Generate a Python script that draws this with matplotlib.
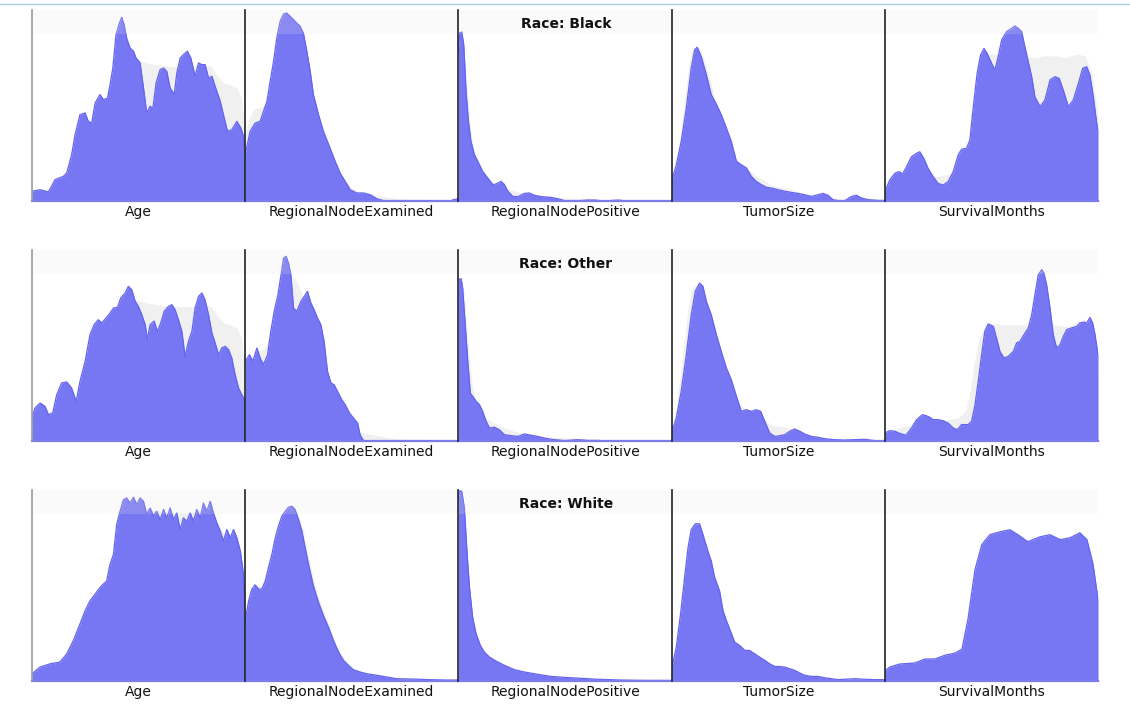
import matplotlib
matplotlib.use("Agg")
import matplotlib.pyplot as plt
from matplotlib.lines import Line2D

races = ["Black", "Other", "White"]
variables = ["Age", "RegionalNodeExamined", "RegionalNodePositive", "TumorSize", "SurvivalMonths"]

# density curves: (position % of range, height % of panel)
black_age = [(0, 5.1), (3.8, 5.9), (7.7, 4.7), (10.8, 11.2), (14.7, 12.9), (16.3, 14.7), (18.6, 24.3), (20.2, 34.7),
             (22.5, 45.2), (24.9, 46.1), (26.4, 41.7), (28, 40.8), (29.6, 51.3), (31.9, 55.7), (33.5, 53.1), (35.4, 53.9),
             (36.6, 60.9), (37.9, 69.6), (39.4, 87.1), (41, 93.2), (42.1, 96.2), (43.2, 92.3), (44.4, 85.3), (46, 80.1),
             (47.6, 78.4), (48.8, 74.9), (50.7, 72.3), (52.3, 59.2), (53.8, 46.1), (55.4, 49.6), (56.7, 48.7), (58.2, 61.8),
             (60.1, 68.8), (61.7, 69.6), (63.2, 67.9), (64.8, 59.2), (66.7, 55.7), (67.9, 67), (69.5, 74.9), (71, 76.6),
             (72.9, 78.4), (74.5, 74.9), (76.5, 65.3), (78.1, 72.3), (79.7, 71.4), (81.2, 71.4), (82.8, 64.4), (84.4, 65.3),
             (85.9, 60), (88.3, 52.2), (89.8, 45.2), (91.7, 36.5), (93.7, 37.3), (96.1, 41.7), (98, 38.2), (99.2, 33.9),
             (100, 24.3)]
black_rne = [(0, 24.3), (2.3, 36.5), (4.7, 40.8), (7, 41.7), (8.6, 47), (10.2, 52.2), (11.7, 62.7), (13.3, 73.1),
             (14.8, 85.3), (16.4, 94.1), (18, 97.9), (19.5, 98.4), (21.1, 96.7), (22.7, 94.9), (24.2, 93.2), (25.8, 91.4),
             (27.3, 87.9), (28.9, 78.4), (30.5, 67.9), (32, 55.7), (34.4, 45.2), (36.7, 36.5), (39.8, 27.7), (42.2, 20.8),
             (44.5, 14.7), (46.9, 10.3), (49.2, 5.9), (52.3, 4.2), (55.5, 4.2), (58.6, 3.3), (61.7, 1.2), (64.8, 0.2),
             (71.1, 0), (96.1, 0), (97.7, 0.7), (100, 1.2)]
black_rnp = [(0, 78), (0.6, 88), (1.6, 88.5), (2.5, 81.8), (3.6, 57.4), (4.7, 41.7), (5.9, 31.2), (7.5, 24.3),
             (9.1, 20.8), (11.4, 15.5), (13.8, 12), (16.1, 8.6), (17.7, 8.9), (20, 10.3), (21.6, 8.6), (23.2, 5.1),
             (25.5, 2.4), (27.9, 2.3), (31, 4), (33.3, 4.2), (35.7, 3), (38.8, 2.3), (43.5, 1.9), (46.6, 1.2),
             (49.8, 0.2), (54.5, 0), (60.7, 0.5), (63.8, 0.5), (68.5, 0), (74.8, 0.5), (77.9, 0.2), (82.6, 0), (100, 0)]
black_ts = [(0, 10.3), (2.2, 19), (4.5, 31.2), (6.9, 48.7), (9.2, 69.6), (10.8, 79.2), (12, 80.5), (13.9, 75.7),
            (16.3, 66.1), (18.6, 55.7), (21, 50.6), (23.3, 45.2), (25.7, 38.2), (28, 31.2), (30.4, 20.8), (32.7, 19),
            (35.1, 17.3), (37.4, 12.9), (39.7, 10.3), (42.1, 8.6), (44.4, 7.2), (46.8, 6.8), (49.9, 5.9), (53.1, 5.1),
            (56.2, 4.5), (59.3, 4), (62.4, 3.3), (65.6, 2.4), (68.7, 3.3), (71, 4), (73.4, 3), (75.7, 0.7), (78.1, 0.2),
            (81.2, 0.2), (84.4, 2.4), (86.7, 3), (89, 1.6), (92.2, 0.7), (96.9, 0.3), (100, 0.3)]
black_surv = [(0, 4.9), (2.3, 11), (4.7, 14.5), (6.7, 15.4), (8.3, 14.1), (10.2, 18), (12.5, 23.2), (14.9, 25),
              (16.4, 25.8), (18.3, 22.3), (20.3, 17.1), (22.7, 12.7), (25, 9.2), (27.4, 8.4), (29.7, 10.1), (32.1, 15.4),
              (34.4, 24.1), (36, 27.1), (38.3, 27.6), (39.9, 31.9), (41.5, 49.4), (43.3, 66.8), (44.9, 76.4), (46.5, 79.9),
              (48, 77.3), (50.1, 72.1), (51.6, 68.6), (53.2, 75.6), (54.8, 84.3), (57.1, 88.7), (59.5, 90.4), (61, 91.6),
              (62.6, 90.4), (64.2, 88.7), (65.7, 80.8), (67.3, 72.9), (68.9, 65.1), (70.4, 54.6), (72.8, 49.4), (75.1, 52.9),
              (77.5, 63.4), (79.8, 65.1), (81.8, 64.2), (83.7, 58.1), (86.1, 49.4), (88.4, 52.9), (90.8, 61.6), (92.8, 69.5),
              (94.7, 70.3), (96.2, 66), (97.8, 54.6), (99.4, 40.7), (100, 37.2)]

other_age = [(0, 12), (1.4, 17.3), (3.8, 19.9), (6.1, 18.2), (7.7, 13.8), (9.7, 14.7), (11.6, 24.3), (13.9, 30.4),
             (16.3, 30.9), (18.6, 27.7), (20.7, 20.8), (22.5, 31.2), (24.9, 41.7), (27.2, 55.7), (29.1, 60.9), (31.1, 63.5),
             (32.7, 61.8), (34.7, 64.4), (36.6, 67), (38.2, 69.6), (40.1, 70), (41.6, 74.9), (43.7, 77.5), (45.2, 81),
             (46.8, 79.2), (48.4, 73.1), (49.9, 70.5), (51.5, 66.1), (53.1, 60.9), (54.1, 53.1), (55.4, 60.9), (57.3, 62.8),
             (58.8, 57.4), (60.4, 61.8), (62, 67.9), (64, 70.5), (65.6, 71.4), (67.1, 68.8), (68.7, 63.5), (70.3, 57.4),
             (71.8, 44.3), (73.4, 52.2), (75, 57.4), (76.5, 69.6), (78.1, 75.7), (79.7, 77.5), (81.2, 73.8), (82.8, 66.1),
             (84.4, 56.5), (85.9, 51.3), (87.5, 45.2), (89, 48.7), (90.6, 49.6), (92.2, 47.8), (93.7, 43.5), (95.3, 34.7),
             (96.9, 27.7), (98.4, 24.3), (100, 20.8)]
other_rne = [(0, 41.7), (2, 45.2), (3.6, 41.7), (5.5, 48.7), (7, 43.5), (8.6, 40), (10.5, 45.2), (12, 57.4),
             (13.6, 67.9), (15.2, 75.7), (16.7, 86.2), (18, 95.8), (19.2, 96.7), (20.3, 93.2), (21.4, 87.1), (22.7, 69.6),
             (24.2, 67.9), (26.1, 73.1), (27.7, 75.7), (29.2, 78.4), (30.8, 72.3), (32.3, 68.8), (33.9, 64.4), (35.5, 60.9),
             (37, 52.2), (38.6, 36.5), (40.2, 30.4), (41.7, 29.5), (43.3, 26), (45.3, 21.6), (46.9, 19), (48.9, 14.7),
             (50.8, 12), (52.7, 9.4), (53.9, 3.3), (55.5, 0.2), (100, 0)]
other_rnp = [(0, 84.5), (1.3, 85), (2, 80), (3.1, 62.7), (4.4, 41.7), (5.6, 25.1), (6.7, 23.4), (8.3, 20.8),
             (9.9, 19), (11.4, 15.5), (13, 10.3), (14.6, 6.8), (16.9, 7.2), (19.2, 5.9), (21.6, 3.3), (24.7, 2.8),
             (27.9, 2.4), (31, 3.7), (34.1, 3), (37.2, 2.4), (38.8, 1.9), (41.9, 1.2), (45.1, 0.7), (49.8, 0.2),
             (56, 0.7), (60.7, 0.3), (65.4, 0.3), (70.1, 0), (100, 0)]
other_ts = [(0, 4.2), (2.2, 12), (4.5, 26), (6.9, 45.2), (9.2, 66.1), (11.1, 78.4), (13.1, 82.7), (14.7, 81),
            (16.3, 73.1), (18.6, 66.1), (21, 55.7), (23.3, 46.9), (25.7, 38.2), (28, 32.1), (30.4, 23.4), (32.7, 15.5),
            (35.1, 16.4), (37.4, 15.5), (39.7, 16.4), (41.8, 15.5), (43.7, 10.3), (46, 4.2), (48.4, 2.4), (50.7, 2.8),
            (53.1, 3.3), (55.4, 5.1), (57.7, 6.3), (60.1, 5.1), (62.4, 3.7), (65.6, 2.4), (68.7, 1.9), (71.8, 1.2),
            (76.5, 0.7), (81.2, 0.5), (85.9, 0.7), (90.6, 0.9), (95.3, 0.2), (100, 0.2)]
other_surv = [(0, 4.2), (2.3, 5.4), (4.7, 5.1), (7, 4), (9.9, 3), (12.5, 6.8), (14.9, 11.2), (17.7, 13.8),
              (20.3, 12.9), (22.7, 11.2), (25, 11.2), (27.4, 10.6), (29.7, 9.4), (32.1, 6.8), (34, 5.9), (36, 8.6),
              (39.1, 8.6), (40.7, 10.3), (42.3, 19), (43.8, 31.2), (45.4, 45.2), (46.9, 57.4), (48.5, 61.3), (50.9, 60),
              (52.4, 53.9), (54, 46.9), (55.9, 43.5), (57.9, 44.3), (60.3, 46.9), (61.8, 51.3), (63.4, 52.2), (65.3, 55.7),
              (67.3, 59.2), (68.9, 66.1), (70.4, 76.6), (72, 87.1), (73.6, 89.7), (74.6, 88), (75.9, 81.8), (77.5, 69.6),
              (79, 55.7), (80.6, 48.7), (82.2, 50.4), (83.7, 54.8), (85.3, 58.3), (87.6, 59.2), (90, 60), (91.5, 61.8),
              (93.4, 62.3), (94.7, 61.8), (96.2, 64.7), (97.5, 61.8), (98.6, 55.7), (100, 45.2)]

white_age = [(0, 3.8), (3.8, 7.3), (8.5, 9), (13.1, 9.9), (16.3, 14.2), (19.4, 21.2), (22.5, 29.9), (24.9, 36.8),
             (27.2, 42), (29.6, 45.5), (31.9, 49), (35, 52.4), (36.6, 61.1), (38.2, 66.3), (39.7, 81.9), (41.3, 88.9),
             (42.9, 95), (44.4, 95.8), (46, 93.2), (47.6, 96.2), (49.1, 92.4), (50.7, 95.8), (52.3, 94.1), (53.8, 87.2),
             (55.4, 90.6), (57, 86.3), (58.5, 88.9), (60.1, 84.5), (61.7, 89.8), (63.2, 85.4), (64.8, 90.6), (66.4, 84.5),
             (67.9, 88), (69.5, 79.3), (71, 85.4), (72.6, 83.7), (74.2, 88), (75.7, 83.7), (77.3, 89.8), (78.9, 85.4),
             (80.4, 93.2), (82, 88.9), (83.6, 94.1), (85.1, 88), (86.7, 82.8), (88.3, 78.5), (89.8, 73.3), (91.4, 79.3),
             (93, 75), (94.5, 79.3), (96.1, 75), (97.7, 68.1), (99.2, 55.9), (100, 31.6)]
white_rne = [(0, 31.6), (1.6, 42), (3.1, 48.1), (4.7, 50.3), (6.3, 48.1), (7.8, 48.1), (9.4, 52.4), (10.9, 59.4),
             (12.5, 66.3), (14.1, 75), (15.6, 81.1), (17.2, 86.3), (18.8, 88.9), (20.3, 91), (21.9, 91.5), (23.4, 89.8),
             (25, 84.5), (26.6, 78.5), (28.1, 69.8), (29.7, 61.1), (32, 49.8), (34.4, 41.1), (36.7, 34.2), (39.1, 28.1),
             (41.4, 21.2), (43.8, 15.1), (46.1, 10.8), (48.4, 8.2), (50.8, 5.9), (53.9, 4.7), (57, 3.8), (61.7, 3),
             (66.4, 2.1), (71.1, 1.2), (78.9, 1), (86.7, 0.7), (94.5, 0.5), (100, 0.5)]
white_rnp = [(0, 95.8), (0.6, 99.7), (1.6, 99.3), (2.8, 90.6), (4.1, 66.3), (5.2, 49), (6.7, 33.3), (8.3, 24.7),
             (10.3, 18.6), (12.2, 15.1), (14.6, 12.5), (17.7, 10.4), (21.6, 8.2), (26.3, 5.9), (31, 4.7), (37.2, 3.5),
             (43.5, 2.4), (49.8, 1.9), (57.6, 1.4), (65.4, 0.9), (76.1, 0.5), (88.6, 0.3), (100, 0.3)]
white_ts = [(0, 6.4), (2.2, 17.7), (4.2, 35.1), (6.1, 54.2), (7.7, 69.8), (9.2, 79.3), (11.1, 82.3), (13.1, 82.3),
            (14.7, 76.7), (17, 68.1), (18.6, 62.8), (20.2, 54.2), (22.5, 47.2), (24.1, 36.8), (25.7, 31.6), (27.2, 27.3),
            (29.6, 20.3), (31.9, 18.6), (34.3, 16), (36.6, 16), (39, 14.2), (41.3, 12.5), (43.7, 10.8), (46, 9),
            (48.4, 7.6), (50.7, 7.6), (53.1, 7.3), (55.4, 6.4), (57.7, 5.6), (60.1, 4.2), (62.4, 3), (65.6, 2.4),
            (68.7, 2.4), (71.8, 1.7), (75, 1.2), (78.1, 0.7), (81.2, 0.9), (85.9, 1.2), (90.6, 0.9), (95.3, 0.7),
            (100, 0.7)]
white_surv = [(0, 5.2), (2.3, 7.3), (7, 8.9), (14.1, 9.4), (18.8, 11.5), (23.5, 11.5), (28.2, 13.5), (32.9, 14.6),
              (36.2, 16.7), (39, 32.3), (42.3, 58.3), (45.5, 71.4), (49.3, 76.6), (54, 78.1), (58.7, 79.2), (62.4, 76.6),
              (67.1, 72.9), (72.8, 75.5), (77.5, 76.6), (82.2, 74), (86.9, 75), (91.5, 77.6), (94.8, 74), (97.7, 60.9),
              (100, 42.7)]

# all-races density shown in light grey behind each panel
all_age = [(0, 4), (5, 7), (10, 9), (14, 11), (18, 18), (22, 27), (26, 35), (30, 42), (34, 49), (36, 53), (38, 62),
           (40, 80), (42, 90), (45, 93), (50, 92), (55, 90), (60, 89), (65, 88), (70, 88), (75, 88), (80, 90), (84, 88),
           (87, 82), (90, 77), (93, 76), (96, 74), (98, 68), (100, 45)]
all_rne = [(0, 36), (2, 44), (4, 49), (7, 50), (9, 51), (11, 56), (13, 64), (15, 74), (17, 83), (19, 88), (21, 90),
           (23, 90), (25, 86), (27, 80), (29, 70), (31, 58), (33, 49), (35, 42), (37, 36), (39, 30), (41, 24), (43, 18),
           (45, 14), (47, 11), (50, 7), (53, 5), (57, 4), (62, 3), (67, 2), (72, 1.2), (80, 1), (90, 0.6), (100, 0.5)]
all_rnp = [(0, 95), (0.6, 99), (1.6, 99), (2.8, 90), (4.1, 66), (5.2, 49), (6.7, 33), (8.3, 25), (10.3, 19),
           (12.2, 15), (14.6, 12.5), (17.7, 10.4), (21.6, 8.2), (26.3, 5.9), (31, 4.7), (37.2, 3.5), (43.5, 2.4),
           (49.8, 1.9), (57.6, 1.4), (65.4, 0.9), (76.1, 0.5), (88.6, 0.3), (100, 0.3)]
all_ts = [(0, 6), (2.2, 18), (4.2, 35), (6.1, 54), (7.7, 70), (9.2, 79), (11.1, 82), (13.1, 82), (14.7, 77), (17, 68),
          (18.6, 63), (20.2, 55), (22.5, 47), (24.1, 38), (25.7, 32), (27.2, 28), (29.6, 21), (31.9, 19), (34.3, 17),
          (36.6, 16), (39, 14), (41.3, 12.5), (43.7, 11), (46, 9), (48.4, 8), (50.7, 7.6), (53.1, 7.3), (55.4, 6.4),
          (57.7, 5.6), (60.1, 4.2), (62.4, 3.2), (65.6, 2.6), (68.7, 2.4), (71.8, 1.8), (75, 1.3), (80, 1), (90, 0.9),
          (100, 0.7)]
all_surv = [(0, 5), (5, 8), (10, 10), (15, 11), (20, 12), (25, 13), (30, 14), (34, 15), (36, 17), (38, 20), (40, 32),
            (42, 52), (44, 66), (46, 73), (48, 77), (52, 77), (56, 76), (60, 76), (65, 76), (70, 75), (75, 76), (80, 76),
            (85, 75), (90, 77), (94, 76), (97, 68), (100, 45)]

# grey curve height relative to each race's panel scale
grey_scale = {"Black": [0.8, 0.98, 0.88, 0.98, 1.0],
              "Other": [0.8, 0.95, 0.85, 1.0, 0.8],
              "White": [1.0, 1.0, 1.0, 1.0, 0.98]}

curves = {"Black": [black_age, black_rne, black_rnp, black_ts, black_surv],
          "Other": [other_age, other_rne, other_rnp, other_ts, other_surv],
          "White": [white_age, white_rne, white_rnp, white_ts, white_surv]}
overall = [all_age, all_rne, all_rnp, all_ts, all_surv]

W, H = 1130, 706
fig = plt.figure(figsize=(W / 100, H / 100), dpi=100)
x0, pw, ph = 32, 213.2, 191
row_tops = [10, 250, 490]

for r, race in enumerate(races):
    top = row_tops[r]
    for c, var in enumerate(variables):
        left = x0 + c * pw
        ax = fig.add_axes([left / W, 1 - (top + ph) / H, pw / W, ph / H])
        ax.patch.set_alpha(0)
        gx, gy = zip(*overall[c])
        s = grey_scale[race][c]
        ax.fill_between(gx, [v * s for v in gy], color="#f0f0f0", lw=0, zorder=1)
        bx, by = zip(*curves[race][c])
        ax.fill_between(bx, by, color="#7777f4", lw=0, zorder=2)
        ax.plot(bx, by, color="#6464ee", lw=0.9, zorder=3)
        ax.axhline(0, color="#7c7cf0", lw=1.6, zorder=3, clip_on=False)
        ax.axhspan(87.4, 100, color="#e4e4e4", alpha=0.18, lw=0, zorder=5)
        ax.set_xlim(0, 100)
        ax.set_ylim(0, 100)
        ax.set_xticks([])
        ax.set_yticks([])
        for sp in ("top", "right", "bottom"):
            ax.spines[sp].set_visible(False)
        ax.spines["left"].set_color("#999999" if c == 0 else "#222222")
        ax.spines["left"].set_linewidth(1.2)
        ax.spines["left"].set_zorder(6)
        fig.text((left + pw / 2) / W, 1 - (top + ph + 11) / H, var,
                 ha="center", va="center", fontsize=10, color="#111111")
    fig.text(566 / W, 1 - (top + 14) / H, "Race: " + race, ha="center", va="center",
             fontsize=10, fontweight="bold", color="#111111")

fig.add_artist(Line2D([0, 1], [1 - 3.5 / H, 1 - 3.5 / H], color="#a9cfe0", lw=1))
fig.savefig("out.png", dpi=100)
